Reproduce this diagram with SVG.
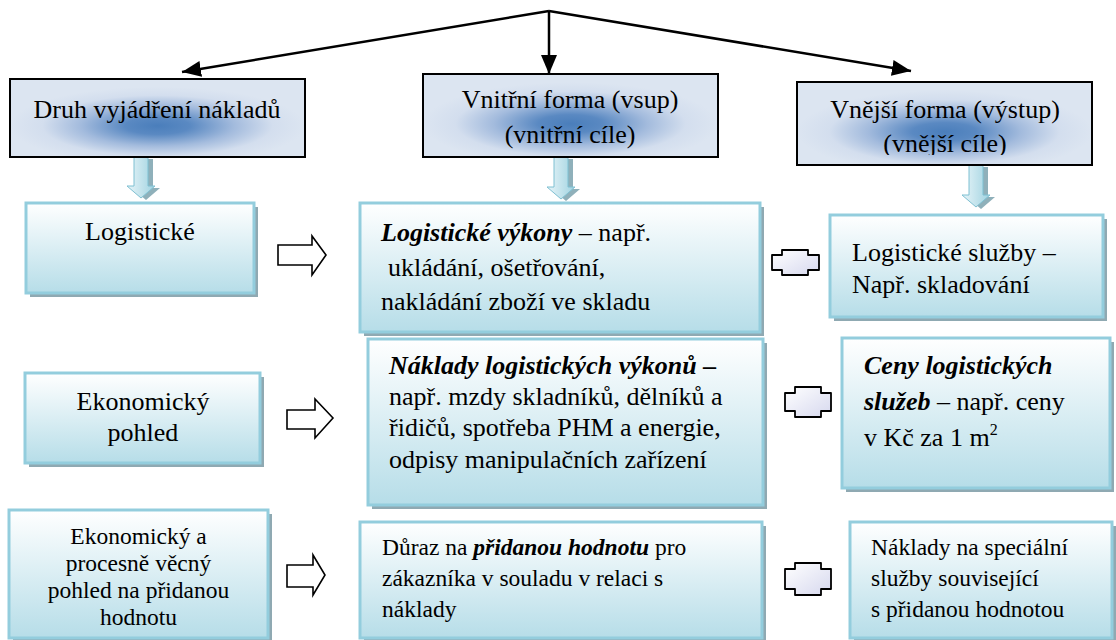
<svg xmlns="http://www.w3.org/2000/svg" width="1116" height="640" viewBox="0 0 1116 640" font-family="Liberation Serif, Times New Roman, serif">
<defs>
<style>
text{font-family:'Liberation Serif','Times New Roman',serif;font-size:26px;fill:#000}
.s{font-size:23.5px}
.bi{font-weight:bold;font-style:italic}
.hdr{stroke:#000;stroke-width:2;fill:url(#glow)}
.box{stroke:#93cddd;stroke-width:3;fill:url(#pale)}
.shd{fill:#8fa9b2}
.con{stroke:#000;stroke-width:2.5;fill:none}
.ra{fill:#fff;stroke:#000;stroke-width:1.6}
.bl{fill:url(#lav);stroke:#000;stroke-width:1.8;stroke-linejoin:round}
.da{fill:url(#cyan);stroke:#7fc0d2;stroke-width:1}
.das{fill:#8fb0ba}
</style>
<radialGradient id="glow" cx="0.5" cy="0.6" r="0.5">
<stop offset="0" stop-color="#4a7ebb"/>
<stop offset="0.22" stop-color="#5a89c2"/>
<stop offset="0.52" stop-color="#a3bbdd"/>
<stop offset="0.78" stop-color="#d3deee"/>
<stop offset="1" stop-color="#dce5f1"/>
</radialGradient>
<linearGradient id="pale" x1="0" y1="0" x2="0" y2="1">
<stop offset="0" stop-color="#ffffff"/>
<stop offset="1" stop-color="#b6dde8"/>
</linearGradient>
<linearGradient id="lav" x1="0" y1="0" x2="1" y2="1">
<stop offset="0" stop-color="#ffffff"/>
<stop offset="1" stop-color="#d6d8ee"/>
</linearGradient>
<linearGradient id="cyan" x1="0" y1="0" x2="1" y2="0">
<stop offset="0" stop-color="#e8f5f9"/>
<stop offset="1" stop-color="#9fd2e0"/>
</linearGradient>
<marker id="ah" markerUnits="userSpaceOnUse" markerWidth="20" markerHeight="16" refX="19" refY="8" orient="auto">
<path d="M0,0 L19,8 L0,16 z" fill="#000"/>
</marker>
<clipPath id="clip3"><rect x="797" y="82" width="295" height="73"/></clipPath>
</defs>

<g id="connectors">
<line class="con" x1="549" y1="11" x2="182" y2="72" marker-end="url(#ah)"/>
<line class="con" x1="549" y1="11" x2="549" y2="74" marker-end="url(#ah)"/>
<line class="con" x1="549" y1="11" x2="911" y2="71" marker-end="url(#ah)"/>
<path class="das" d="M137,159 h16 v29 h7 l-14,12 l-14,-12 h7 z"/>
<path class="da" d="M134,157 h14 v29 h7 l-14,12 l-14,-12 h7 z"/>
<path class="das" d="M557,159 h16 v30 h7 l-14,12 l-14,-12 h7 z"/>
<path class="da" d="M554,157 h14 v30 h7 l-14,12 l-14,-12 h7 z"/>
<path class="das" d="M972,167 h16 v30 h7 l-14,12 l-14,-12 h7 z"/>
<path class="da" d="M969,165 h14 v30 h7 l-14,12 l-14,-12 h7 z"/>
<path class="ra" d="M278,245 H312 V236 L326,255 L312,275 V265 H278 z"/>
<path class="ra" d="M287,410 H315 V399 L333,418 L315,438 V429 H287 z"/>
<path class="ra" d="M287,565 H313 V555 L325,575 L313,595 V587 H287 z"/>
<path class="bl" d="M772,255 H782 V250 H808 V255 H819 V270 H808 V275 H782 V270 H772 z"/>
<path class="bl" d="M785,393 H795 V387 H821 V393 H831 V411 H821 V417 H795 V411 H785 z"/>
<path class="bl" d="M785,569 H795 V563 H821 V569 H831 V589 H821 V595 H795 V589 H785 z"/>
</g>

<g id="h1">
<rect class="hdr" x="10" y="79" width="295" height="78"/>
<text x="157" y="118" text-anchor="middle">Druh vyjádření nákladů</text>
</g>
<g id="h2">
<rect class="hdr" x="423" y="74" width="295" height="83"/>
<text x="570" y="108" text-anchor="middle">Vnitřní forma (vsup)</text>
<text x="570" y="143" text-anchor="middle">(vnitřní cíle)</text>
</g>
<g id="h3">
<rect class="hdr" x="797" y="82" width="295" height="83"/>
<g clip-path="url(#clip3)">
<text x="945" y="118" text-anchor="middle">Vnější forma (výstup)</text>
<text x="945" y="152" text-anchor="middle">(vnější cíle)</text>
</g>
</g>

<g id="r1a">
<rect class="shd" x="30" y="207" width="228" height="90"/>
<rect class="box" x="26" y="203" width="228" height="90"/>
<text x="140" y="240" text-anchor="middle">Logistické</text>
</g>
<g id="r1b">
<rect class="shd" x="364" y="207" width="400" height="129"/>
<rect class="box" x="360" y="203" width="400" height="129"/>
<text x="381" y="241"><tspan class="bi">Logistické výkony</tspan> – např.</text>
<text x="388" y="276">ukládání, ošetřování,</text>
<text x="381" y="310">nakládání zboží ve skladu</text>
</g>
<g id="r1c">
<rect class="shd" x="834" y="219" width="273" height="102"/>
<rect class="box" x="830" y="215" width="273" height="102"/>
<text x="852" y="261">Logistické služby –</text>
<text x="852" y="293">Např. skladování</text>
</g>

<g id="r2a">
<rect class="shd" x="29" y="377" width="235" height="90"/>
<rect class="box" x="25" y="373" width="235" height="90"/>
<text x="143" y="410" text-anchor="middle">Ekonomický</text>
<text x="143" y="441" text-anchor="middle">pohled</text>
</g>
<g id="r2b">
<rect class="shd" x="372" y="343" width="395" height="166"/>
<rect class="box" x="368" y="339" width="395" height="166"/>
<text x="389" y="374"><tspan class="bi">Náklady logistických výkonů –</tspan></text>
<text x="389" y="405">např. mzdy skladníků, dělníků a</text>
<text x="389" y="436">řidičů, spotřeba PHM a energie,</text>
<text x="389" y="468">odpisy manipulačních zařízení</text>
</g>
<g id="r2c">
<rect class="shd" x="846" y="342" width="268" height="150"/>
<rect class="box" x="842" y="338" width="268" height="150"/>
<text x="864" y="374"><tspan class="bi">Ceny logistických</tspan></text>
<text x="864" y="410"><tspan class="bi">služeb</tspan> – např. ceny</text>
<text x="864" y="446">v Kč za 1 m<tspan font-size="16" dy="-11">2</tspan></text>
</g>

<g id="r3a">
<rect class="shd" x="13" y="514" width="259" height="130"/>
<rect class="box" x="9" y="510" width="259" height="128"/>
<text class="s" x="138.5" y="544" text-anchor="middle">Ekonomický a</text>
<text class="s" x="138.5" y="571" text-anchor="middle">procesně věcný</text>
<text class="s" x="138.5" y="598" text-anchor="middle">pohled na přidanou</text>
<text class="s" x="138.5" y="625" text-anchor="middle">hodnotu</text>
</g>
<g id="r3b">
<rect class="shd" x="364" y="526" width="402" height="120"/>
<rect class="box" x="360" y="522" width="402" height="116"/>
<text class="s" x="382" y="555">Důraz na <tspan class="bi">přidanou hodnotu</tspan> pro</text>
<text class="s" x="382" y="586">zákazníka v souladu v relaci s</text>
<text class="s" x="382" y="617">náklady</text>
</g>
<g id="r3c">
<rect class="shd" x="854" y="526" width="262" height="120"/>
<rect class="box" x="850" y="522" width="262" height="116"/>
<text class="s" x="871" y="555">Náklady na speciální</text>
<text class="s" x="871" y="586">služby související</text>
<text class="s" x="871" y="617">s přidanou hodnotou</text>
</g>
</svg>
